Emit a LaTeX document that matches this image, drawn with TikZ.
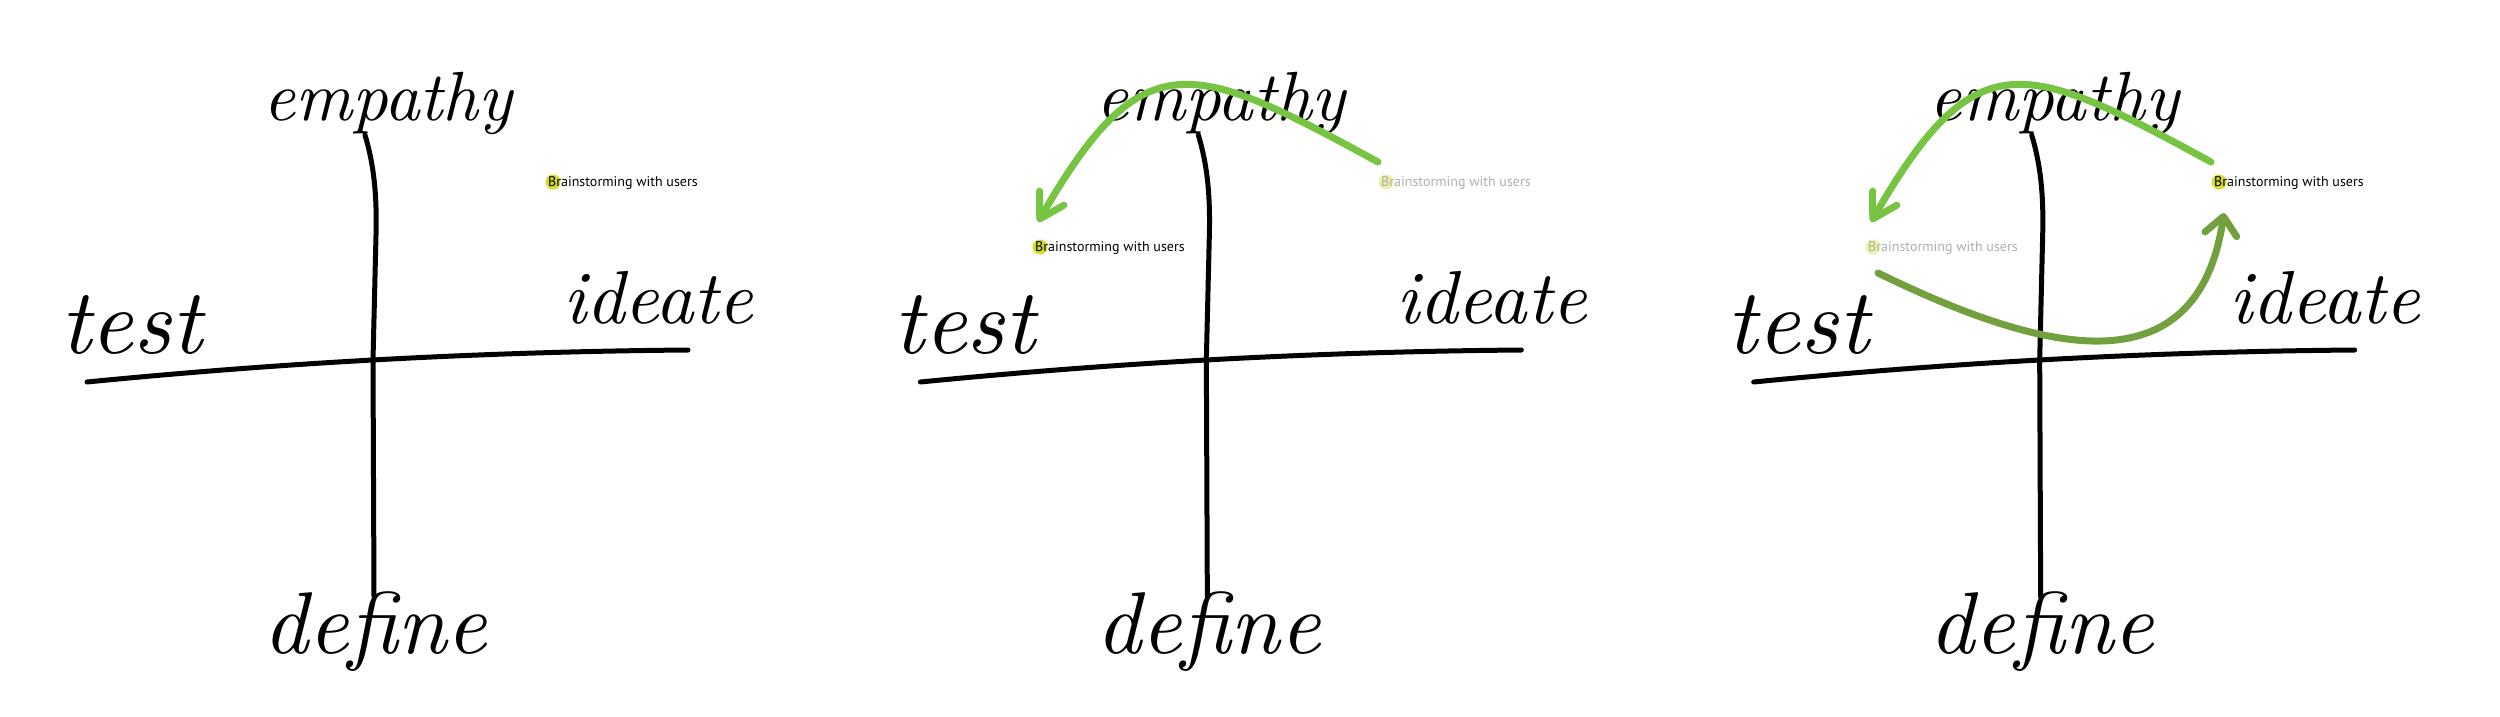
\documentclass[tikz,border=0pt]{standalone}
\usepackage{fontspec}
\newfontfamily\lblfont{PT Sans}
\usetikzlibrary{arrows.meta}
\definecolor{gA}{RGB}{118,196,66}
\definecolor{gB}{RGB}{114,160,62}
\definecolor{dotY}{RGB}{215,220,40}
\definecolor{dotF}{RGB}{238,240,170}
\definecolor{txtF}{RGB}{175,175,175}
\tikzset{
 ink/.style={line width=5pt, line cap=round, line join=round, black},
 word/.style={inner sep=0pt, anchor=base west},
 ydot/.style={circle, fill=dotY, minimum size=15pt, inner sep=0pt},
 fdot/.style={circle, fill=dotF, minimum size=15pt, inner sep=0pt},
 lbl/.style={inner sep=0pt, anchor=base west, font=\lblfont\fontsize{14}{14}\selectfont},
 flbl/.style={lbl, text=txtF},
 arrA/.style={line width=7pt, line cap=round, gA, -{Straight Barb[length=24pt,width=28pt,round]}},
 arrB/.style={line width=7pt, line cap=round, gB, -{Straight Barb[length=18pt,width=32pt,round]}},
}
\begin{document}
\begin{tikzpicture}[x=1pt,y=-1pt]
\useasboundingbox (0,0) rectangle (2500,717);
\fill[white] (0,0) rectangle (2500,717);
\foreach \i/\dx in {1/0,2/833.33,3/1666.67}{
 \begin{scope}[xshift=\dx pt]
  \coordinate (vt\i) at (365,135);
  \coordinate (vb\i) at (374,597);
  \coordinate (hl\i) at (87,382);
  \coordinate (hr\i) at (688,350);
  \draw[ink] (vt\i) .. controls (374,165) and (377,195) .. (376,235) -- (373,360) -- (vb\i);
  \draw[ink] (hl\i) .. controls (250,366) and (450,352) .. (hr\i);
  \node[word] (emp\i) at (263,120) {\resizebox{249pt}{!}{\itshape empathy}};
  \node[word] (test\i) at (60,353) {\resizebox{142pt}{!}{\itshape test}};
  \node[word] (ide\i) at (563,323) {\resizebox{190pt}{!}{\itshape ideate}};
  \node[word] (def\i) at (263,653) {\resizebox{224pt}{!}{\itshape define}};
 \end{scope}
}
% panel 1 label
\node[ydot] (d1) at (553,182) {};
\node[lbl] (t1) at (548,186) {Brainstorming with users};
% panel 2 labels
\node[fdot] (d2f) at (1386,182) {};
\node[flbl] (t2f) at (1381,186) {Brainstorming with users};
\node[ydot] (d2) at (1040,247) {};
\node[lbl] (t2) at (1035,251) {Brainstorming with users};
% panel 3 labels
\node[fdot] (d3f) at (1873,247) {};
\node[flbl] (t3f) at (1868,251) {Brainstorming with users};
\node[ydot] (d3) at (2219,182) {};
\node[lbl] (t3) at (2214,186) {Brainstorming with users};
% arrows
\coordinate (a2s) at (1378,162);
\coordinate (a2e) at (1038,222);
\draw[arrA] (a2s) .. controls (1191,60) and (1143,40) .. (a2e);
\coordinate (a3s) at (2211,162);
\coordinate (a3e) at (1871,222);
\draw[arrA] (a3s) .. controls (2024,60) and (1976,40) .. (a3e);
\coordinate (b3s) at (1878,273);
\coordinate (b3e) at (2224,213);
\draw[arrB] (b3s) .. controls (2040,352) and (2197,393) .. (b3e);
\end{tikzpicture}
\end{document}
